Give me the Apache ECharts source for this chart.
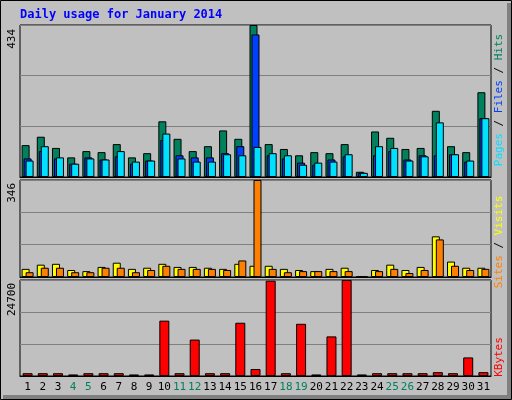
<!DOCTYPE html>
<html><head><meta charset="utf-8">
<script src="https://cdn.jsdelivr.net/npm/echarts@6/dist/echarts.min.js"></script>
<style>html,body{margin:0;padding:0;background:#fff}#c{width:512px;height:400px}</style>
</head><body><div id="c"></div>
<script>
// 每日数据
const days = ['1','2','3','4','5','6','7','8','9','10','11','12','13','14','15','16','17','18','19','20','21','22','23','24','25','26','27','28','29','30','31'];
const weekend = ['4','5','11','12','18','19','25','26'];
const hits = [91,115,83,56,74,71,94,56,68,159,109,74,88,133,109,434,94,80,62,71,68,94,15,130,112,80,83,189,88,71,242];
const files = [53,74,53,38,56,50,59,38,47,106,62,56,56,68,88,407,62,53,41,35,50,59,12,62,74,50,62,62,65,44,168];
const pages = [47,88,56,38,53,50,74,44,47,124,53,44,44,65,62,86,68,62,35,41,44,65,12,88,83,47,59,156,65,47,168];
const sites = [29,44,47,25,21,36,51,29,33,47,36,36,33,29,47,40,40,29,25,21,29,33,2,25,44,25,36,145,55,33,33];
const visits = [17,33,33,17,17,33,33,17,25,40,29,29,29,25,59,346,29,17,21,21,21,21,2,21,29,14,25,134,40,25,29];
const kbytes = [720,720,720,400,720,720,720,400,400,14240,720,9370,720,720,13700,1800,24520,720,13430,400,10190,24700,400,720,720,720,720,990,720,4780,990];
const maxHits = 434, maxVisits = 346, maxKb = 24700;

const font = 'DejaVu Sans Mono';
const grids = [
  {left:20, right:21, top:25, height:152},
  {left:20, right:21, top:180, height:97},
  {left:20, right:21, top:280, height:96}
];
const yAx = (i, max) => ({
  gridIndex:i, type:'value', min:0, max:max, interval:max/3,
  axisLabel:{show:false}, axisLine:{show:false}, axisTick:{show:false},
  splitLine:{lineStyle:{color:'#808080', width:1}}
});
const xAx = (i, show) => ({
  gridIndex:i, type:'category', data:days,
  axisLine:{show:true, lineStyle:{color:'#000'}}, axisTick:{show:false},
  axisLabel:{show:show, fontFamily:font, fontSize:11, margin:6, interval:0,
    color:(v)=> weekend.indexOf(v) >= 0 ? '#00805C' : '#000'}
});
const bar = (name, data, i, color, w, gap) => ({
  name, type:'bar', xAxisIndex:i, yAxisIndex:i, data, barWidth:w, barGap:gap,
  itemStyle:{color, borderColor:'#000', borderWidth:1}, animation:false
});
const vText = (x, y, align, rich, text) => ({
  type:'text', x, y, rotation:Math.PI/2,
  style:{text, fontFamily:font, fontSize:11, align, verticalAlign:'middle', rich}
});

const option = {
  backgroundColor:'#C0C0C0',
  grid: grids.map(g => Object.assign({show:true, borderColor:'#000', borderWidth:1}, g)),
  xAxis:[xAx(0,false), xAx(1,false), xAx(2,true)],
  yAxis:[yAx(0,maxHits), yAx(1,maxVisits), yAx(2,maxKb)],
  series:[
    bar('Hits', hits, 0, '#00805C', 8, '-75%'),
    bar('Files', files, 0, '#0040FF', 8, '-75%'),
    bar('Pages', pages, 0, '#00E0FF', 8, '-75%'),
    bar('Sites', sites, 1, '#FFFF00', 8, '-50%'),
    bar('Visits', visits, 1, '#FF8000', 8, '-50%'),
    bar('KBytes', kbytes, 2, '#FF0000', 10, '0%')
  ],
  graphic:[
    {type:'rect', shape:{x:0.5, y:0.5, width:511, height:399}, style:{fill:null, stroke:'#000', lineWidth:1}},
    {type:'rect', shape:{x:507, y:3, width:4, height:396}, style:{fill:'#808080'}},
    {type:'rect', shape:{x:3, y:395, width:508, height:4}, style:{fill:'#808080'}},
    {type:'text', x:20, y:15, style:{text:'Daily usage for January 2014', fontFamily:font, fontSize:12, fontWeight:'bold', fill:'#0000FF', verticalAlign:'middle'}},
    vText(12, 29, 'right', {}, '434'),
    vText(12, 183, 'right', {}, '346'),
    vText(12, 283, 'right', {}, '24700'),
    vText(499, 100, 'center', {p:{fill:'#00E0FF',fontFamily:font,fontSize:11}, f:{fill:'#0040FF',fontFamily:font,fontSize:11}, h:{fill:'#00805C',fontFamily:font,fontSize:11}, s:{fill:'#000',fontFamily:font,fontSize:11}},
      '{p|Pages}{s| / }{f|Files}{s| / }{h|Hits}'),
    vText(499, 242, 'center', {a:{fill:'#FF8000',fontFamily:font,fontSize:11}, b:{fill:'#FFFF00',fontFamily:font,fontSize:11}, s:{fill:'#000',fontFamily:font,fontSize:11}},
      '{a|Sites}{s| / }{b|Visits}'),
    vText(499, 357, 'center', {k:{fill:'#FF0000',fontFamily:font,fontSize:11}}, '{k|KBytes}')
  ]
};

const chart = echarts.init(document.getElementById('c'));
chart.setOption(option);
</script>
</body></html>
